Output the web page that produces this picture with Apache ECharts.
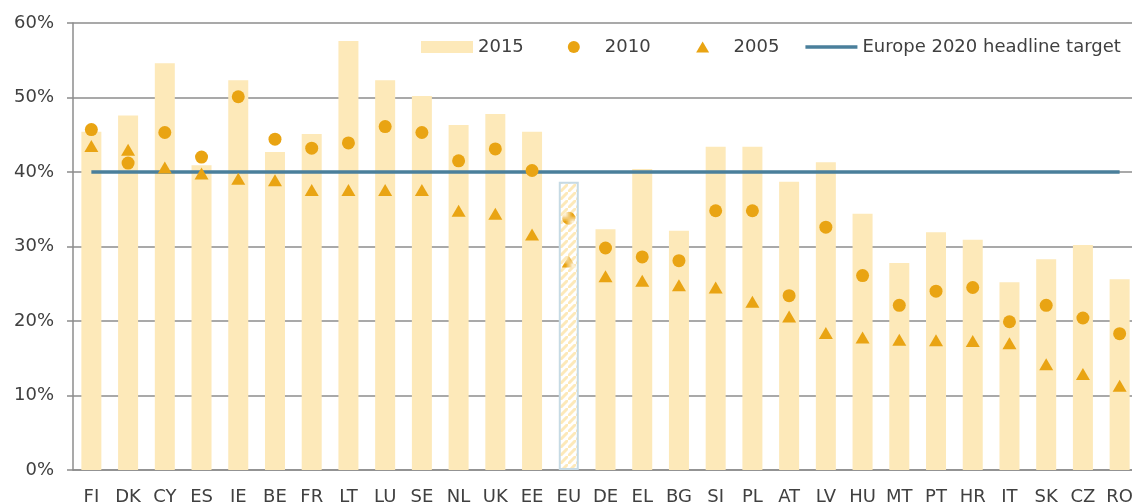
<!doctype html>
<html>
<head>
<meta charset="UTF-8">
<title></title>
<script src="https://cdn.jsdelivr.net/npm/echarts@6/dist/echarts.min.js"></script>
<style>
	html, body { margin: 0; padding: 0; background: #fff; }
	#chart { width: 1132px; height: 502px; }
</style>
</head>
<body>
<div id="chart"></div>
<script>
var countries = ['FI','DK','CY','ES','IE','BE','FR','LT','LU','SE','NL','UK','EE','EU','DE','EL','BG','SI','PL','AT','LV','HU','MT','PT','HR','IT','SK','CZ','RO'];
// 2015 bars
var y2015 = [45.4,47.6,54.6,40.9,52.3,42.7,45.1,57.6,52.3,50.2,46.3,47.8,45.4,38.7,32.3,40.4,32.1,43.4,43.4,38.7,41.3,34.4,27.8,31.9,30.9,25.2,28.3,30.2,25.6];
// 2010 circles
var y2010 = [45.7,41.2,45.3,42.0,50.1,44.4,43.2,43.9,46.1,45.3,41.5,43.1,40.2,33.8,29.8,28.6,28.1,34.8,34.8,23.4,32.6,26.1,22.1,24.0,24.5,19.9,22.1,20.4,18.3];
// 2005 triangles
var y2005 = [43.5,43.0,40.6,39.8,39.1,38.9,37.6,37.6,37.6,37.6,34.8,34.4,31.6,28.0,26.0,25.4,24.8,24.5,22.6,20.6,18.4,17.8,17.5,17.4,17.3,17.0,14.2,12.9,11.3];
var target = 40;
var yTicks = [0,10,20,30,40,50,60];

var barColor = '#fde9b9';
var dotColor = '#e9a413';
var lineColor = '#4a7f9b';

function stripes(bg, fg, size, w) {
	var c = document.createElement('canvas');
	c.width = size; c.height = size;
	var g = c.getContext('2d');
	g.fillStyle = bg; g.fillRect(0, 0, size, size);
	g.strokeStyle = fg; g.lineWidth = w;
	g.beginPath();
	g.moveTo(-2, size + 2); g.lineTo(size + 2, -2);
	g.moveTo(-size - 2, 2); g.lineTo(2, -size - 2);
	g.moveTo(size - 2, 2 * size + 2); g.lineTo(2 * size + 2, size - 2);
	g.stroke();
	return { image: c, repeat: 'repeat' };
}
var euBar = stripes('#ffffff', barColor, 8, 3);
var euDot = stripes('#fcefd2', dotColor, 7, 3.8);

function pts(vals) {
	return countries.map(function (c, i) {
		if (c === 'EU') return { value: [c, vals[i]], itemStyle: { color: euDot } };
		return [c, vals[i]];
	});
}

// legend icons padded to the full 52x12 item box so the marks sit centred
var iconDot = 'path://M0,0 M52,12 M32.5,6 A6.5,6.5 0 1,1 19.5,6 A6.5,6.5 0 1,1 32.5,6 Z';
var iconTri = 'path://M0,0 M52,12 M26,0.5 L32.5,11.5 L19.5,11.5 Z';
var iconLine = 'path://M0,0 M52,12 M0,4.25 L52,4.25 L52,7.75 L0,7.75 Z';

var chart = echarts.init(document.getElementById('chart'));
chart.setOption({
	animation: false,
	textStyle: { fontFamily: 'DejaVu Sans', color: '#404040' },
	grid: { left: 73, top: 23, width: 1065, bottom: 32, outerBoundsMode: 'none', containLabel: false },
	legend: {
		left: 416, top: 33,
		itemWidth: 52, itemHeight: 12, itemGap: 26,
		symbolKeepAspect: true,
		textStyle: { fontSize: 18, color: '#404040', fontFamily: 'DejaVu Sans' },
		data: [
			{ name: '2015', icon: 'rect' },
			{ name: '2010', icon: iconDot },
			{ name: '2005', icon: iconTri },
			{ name: 'Europe 2020 headline target', icon: iconLine, itemStyle: { color: lineColor } }
		]
	},
	xAxis: {
		type: 'category',
		data: countries,
		axisLine: { lineStyle: { color: '#8c8c8c', width: 1.5 } },
		axisTick: { interval: 0, length: 6, lineStyle: { color: '#8c8c8c', width: 1.5 } },
		axisLabel: { interval: 0, margin: 18, fontSize: 18, color: '#404040' }
	},
	yAxis: {
		type: 'value',
		min: yTicks[0], max: yTicks[yTicks.length - 1], interval: 10,
		axisLine: { show: true, lineStyle: { color: '#8c8c8c', width: 1.5 } },
		axisTick: { show: true, length: 6, lineStyle: { color: '#8c8c8c', width: 1.5 } },
		axisLabel: { formatter: '{value}%', margin: 19, fontSize: 18, color: '#404040' },
		splitLine: { lineStyle: { color: '#8c8c8c', width: 1.5 } }
	},
	series: [
		{
			name: '2015',
			type: 'bar',
			barWidth: 20,
			itemStyle: { color: barColor },
			data: countries.map(function (c, i) {
				if (c === 'EU') return { value: y2015[i], itemStyle: { color: euBar, borderColor: '#c6dae4', borderWidth: 2 } };
				return y2015[i];
			}),
			z: 2
		},
		{
			name: 'Europe 2020 headline target',
			type: 'line',
			symbol: 'none',
			data: countries.map(function () { return target; }),
			lineStyle: { color: lineColor, width: 3.5 },
			itemStyle: { color: lineColor },
			z: 3
		},
		{
			name: '2010',
			type: 'scatter',
			symbol: 'circle',
			symbolSize: 13,
			itemStyle: { color: dotColor, opacity: 1 },
			data: pts(y2010),
			z: 4
		},
		{
			name: '2005',
			type: 'scatter',
			symbol: 'triangle',
			symbolSize: [14, 12],
			itemStyle: { color: dotColor, opacity: 1 },
			data: pts(y2005),
			z: 4
		}
	]
});
</script>
</body>
</html>
